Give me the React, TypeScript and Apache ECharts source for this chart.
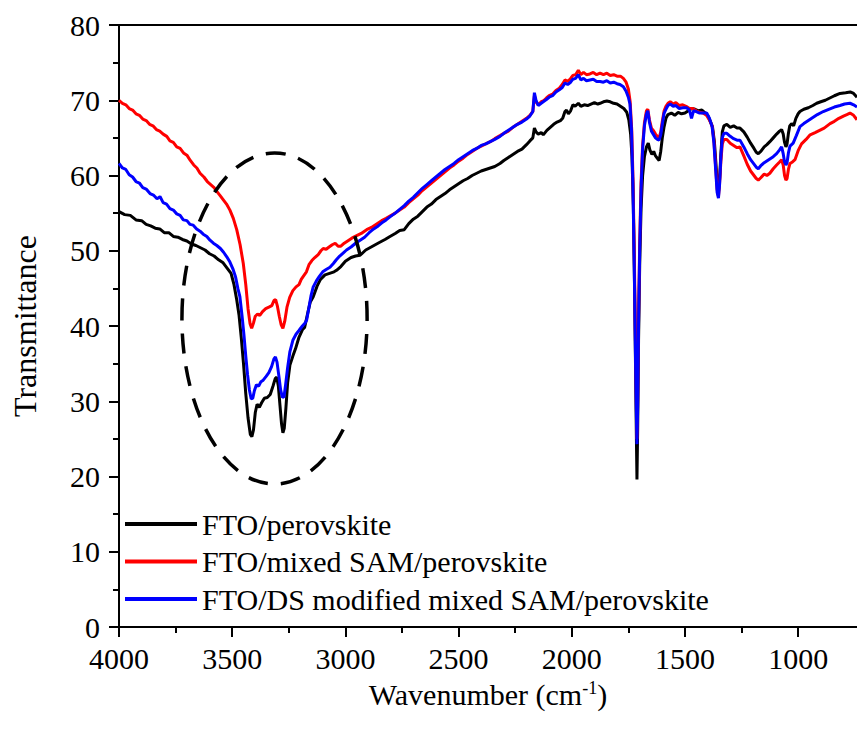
import React, { useEffect, useRef } from 'react';
import * as echarts from 'echarts';

const FONT = 'Liberation Serif, Times New Roman, serif';

const seriesNames = ['FTO/perovskite', 'FTO/mixed SAM/perovskite', 'FTO/DS modified mixed SAM/perovskite'];
const seriesColors = ['#000000', '#ff0000', '#0000ff'];

const X_MIN = 740;
const X_MAX = 4000;
const majorTicks = [1000, 1500, 2000, 2500, 3000, 3500, 4000];
const minorTicks = [1250, 1750, 2250, 2750, 3250, 3750];
const Y_MIN = 0;
const Y_MAX = 80;
const Y_INTERVAL = 10;

// dashed ellipse annotation, in data units: centre (wavenumber, transmittance) and radii
const ellipseCenter = [3313, 41];
const ellipseRadii = [409, 22];

const ftoPerovskite: [number, number][] = [
  [4000,55.2],[3975,54.8],[3950,54.7],[3925,54.1],[3900,54.0],[3880,53.5],[3860,53.3],[3840,53.0],[3820,52.9],[3800,52.4],[3780,52.4],[3760,51.9],[3740,51.8],[3720,51.5],[3700,51.3],[3680,50.9],[3660,50.7],[3640,50.4],[3620,50.1],[3600,49.6],[3580,49.3],[3560,48.8],[3540,48.4],[3520,47.6],[3505,47.0],[3492,45.5],[3480,43.5],[3470,41.5],[3460,38.5],[3450,35.0],[3440,31.0],[3430,27.8],[3420,25.6],[3413,25.3],[3406,26.2],[3398,28.5],[3390,29.6],[3380,29.2],[3370,29.8],[3358,30.4],[3345,30.5],[3332,30.9],[3320,32.0],[3310,33.0],[3303,33.2],[3296,32.0],[3289,29.5],[3282,27.0],[3276,25.8],[3270,26.4],[3263,29.0],[3255,32.5],[3245,34.8],[3232,36.0],[3220,37.0],[3205,38.5],[3190,39.5],[3180,39.8],[3168,41.5],[3155,43.2],[3142,43.9],[3125,45.3],[3110,46.2],[3090,46.8],[3070,47.0],[3050,47.2],[3039,47.4],[3020,47.9],[3000,48.6],[2975,49.1],[2955,49.3],[2935,49.4],[2910,50.1],[2880,50.6],[2850,51.1],[2825,51.5],[2803,51.9],[2780,52.3],[2760,52.7],[2740,52.8],[2720,53.6],[2700,54.2],[2680,54.6],[2660,55.2],[2640,55.8],[2620,56.2],[2600,56.8],[2580,57.2],[2560,57.6],[2540,58.1],[2520,58.5],[2500,58.9],[2480,59.3],[2460,59.6],[2440,60.0],[2420,60.3],[2400,60.6],[2380,60.8],[2360,61.0],[2340,61.2],[2317,61.6],[2300,62.0],[2280,62.4],[2260,62.8],[2240,63.2],[2220,63.5],[2200,64.1],[2185,64.6],[2172,65.0],[2165,66.3],[2158,65.8],[2148,65.5],[2135,65.7],[2126,65.4],[2110,66.0],[2095,66.4],[2080,66.8],[2065,67.1],[2050,67.3],[2040,67.6],[2030,68.5],[2023,68.7],[2015,68.2],[2005,68.6],[1995,69.4],[1985,69.2],[1971,69.6],[1960,69.2],[1945,69.4],[1930,69.3],[1915,69.5],[1900,69.7],[1885,69.5],[1875,69.6],[1860,69.8],[1845,69.9],[1830,69.8],[1815,69.6],[1800,69.5],[1785,69.2],[1770,68.9],[1757,68.4],[1748,67.4],[1740,65.5],[1734,62.5],[1728,56],[1723,46],[1718,34],[1714,24],[1712,19.6],[1709,26],[1705,38],[1700,48],[1694,55.5],[1687,60],[1679,62.5],[1670,63.8],[1662,64.3],[1655,63.4],[1646,62.8],[1638,63.2],[1630,62.6],[1622,62.3],[1614,62.0],[1607,63.2],[1600,65.0],[1592,66.5],[1584,67.6],[1575,68.1],[1560,68.3],[1545,68.0],[1530,68.4],[1515,68.2],[1500,68.3],[1485,68.6],[1470,68.9],[1455,68.8],[1440,68.6],[1425,68.7],[1410,68.3],[1398,67.9],[1388,67.2],[1378,66.4],[1370,64.5],[1363,61.5],[1357,58.8],[1352,57.8],[1347,59.5],[1341,63.0],[1335,65.8],[1328,66.6],[1315,66.8],[1300,66.4],[1285,66.6],[1270,66.3],[1257,66.3],[1240,65.8],[1225,65.1],[1210,64.3],[1195,63.6],[1185,63.1],[1176,62.9],[1165,63.2],[1150,63.8],[1138,64.1],[1125,64.5],[1110,65.0],[1095,65.5],[1082,65.9],[1073,66.1],[1066,65.5],[1060,64.4],[1054,63.8],[1049,64.2],[1043,65.6],[1037,66.6],[1029,66.9],[1020,66.6],[1010,67.6],[1000,68.2],[992,68.5],[975,68.8],[955,69.0],[935,69.3],[918,69.6],[900,69.8],[880,70.0],[860,70.3],[840,70.6],[815,70.9],[790,71.0],[770,71.1],[755,70.9],[740,70.4]
];

const ftoMixedSam: [number, number][] = [
  [4000,70.0],[3985,69.6],[3970,69.4],[3955,68.9],[3940,68.7],[3925,68.2],[3910,68.0],[3895,67.5],[3880,67.3],[3865,66.8],[3850,66.6],[3835,66.1],[3820,65.9],[3805,65.5],[3789,65.2],[3775,64.6],[3760,64.4],[3745,63.8],[3730,63.6],[3715,63.0],[3700,62.7],[3685,62.0],[3670,61.4],[3656,61.0],[3642,60.3],[3625,59.8],[3610,59.2],[3595,58.8],[3580,58.4],[3568,57.9],[3555,57.4],[3540,56.8],[3525,56.2],[3510,55.4],[3495,54.3],[3480,52.8],[3465,50.8],[3451,48.3],[3440,45.5],[3430,42.3],[3421,40.3],[3414,39.7],[3406,40.4],[3398,41.3],[3388,41.6],[3378,41.4],[3366,41.9],[3352,42.3],[3338,42.5],[3325,42.7],[3315,43.4],[3308,43.5],[3300,42.6],[3292,41.3],[3284,40.2],[3276,39.7],[3268,40.6],[3258,42.5],[3246,43.8],[3232,44.7],[3218,45.2],[3205,45.5],[3195,46.2],[3186,46.6],[3172,47.2],[3160,48.2],[3148,48.7],[3135,49.1],[3120,49.5],[3108,50.0],[3098,50.3],[3085,50.2],[3072,50.5],[3058,50.8],[3045,51.0],[3032,50.6],[3020,50.6],[3005,51.0],[2990,51.3],[2970,51.7],[2950,52.0],[2930,52.3],[2906,52.8],[2885,53.1],[2860,53.6],[2840,54.0],[2820,54.3],[2803,54.6],[2780,55.0],[2760,55.4],[2740,55.8],[2720,56.4],[2700,56.9],[2680,57.4],[2660,58.0],[2640,58.5],[2620,59.0],[2600,59.5],[2580,60.0],[2560,60.5],[2540,61.0],[2520,61.4],[2500,61.9],[2480,62.3],[2460,62.8],[2440,63.2],[2420,63.6],[2400,63.9],[2380,64.2],[2360,64.5],[2340,64.9],[2317,65.3],[2300,65.6],[2280,65.9],[2260,66.4],[2240,66.8],[2220,67.2],[2200,67.6],[2185,68.0],[2172,68.5],[2165,70.6],[2158,69.8],[2148,69.4],[2135,69.8],[2126,69.9],[2112,70.3],[2100,70.6],[2085,70.8],[2070,71.3],[2055,71.6],[2042,72.1],[2030,72.7],[2018,72.5],[2005,72.9],[1995,73.3],[1983,73.4],[1971,74.0],[1960,73.4],[1948,73.7],[1935,73.4],[1920,73.5],[1905,73.7],[1890,73.4],[1875,73.6],[1860,73.4],[1845,73.6],[1830,73.3],[1815,73.4],[1800,73.2],[1785,73.2],[1772,72.9],[1760,72.4],[1750,71.5],[1742,69.8],[1735,66],[1729,59],[1723,48],[1718,37],[1714,28.5],[1712,25.0],[1709,30],[1705,41],[1700,51],[1694,59],[1687,64],[1679,67.0],[1670,68.6],[1664,68.8],[1657,67.4],[1648,66.3],[1640,66.0],[1630,65.5],[1622,65.2],[1614,65.0],[1607,65.8],[1600,67.2],[1592,68.6],[1584,69.2],[1575,69.6],[1565,69.8],[1552,69.5],[1540,69.7],[1525,69.3],[1510,69.4],[1495,69.2],[1480,68.9],[1465,68.9],[1450,68.6],[1435,68.4],[1420,68.3],[1405,68.0],[1392,67.4],[1380,66.6],[1372,64.6],[1364,61.0],[1358,58.2],[1352,57.2],[1347,59.0],[1341,62.0],[1335,64.2],[1328,64.8],[1315,64.8],[1300,64.3],[1285,64.0],[1270,63.7],[1257,63.8],[1240,62.6],[1225,61.5],[1210,60.6],[1195,60.0],[1185,59.6],[1176,59.4],[1165,59.7],[1150,60.2],[1138,60.0],[1125,60.3],[1110,60.9],[1095,61.4],[1082,61.8],[1073,62.1],[1066,61.4],[1060,60.0],[1054,59.4],[1049,59.6],[1043,60.8],[1036,61.6],[1025,61.8],[1014,62.1],[1000,63.3],[985,64.2],[965,64.8],[947,65.4],[925,65.7],[905,66.0],[885,66.3],[859,66.9],[840,67.2],[820,67.6],[800,67.9],[785,68.1],[771,68.3],[755,68.0],[740,67.4]
];

const ftoDsModified: [number, number][] = [
  [4000,61.6],[3985,61.0],[3970,60.8],[3955,60.1],[3940,59.8],[3925,59.2],[3910,59.0],[3895,58.4],[3880,58.2],[3863,57.6],[3848,57.4],[3832,56.9],[3819,57.2],[3805,56.4],[3790,56.2],[3775,55.6],[3760,55.4],[3745,54.9],[3730,54.7],[3716,54.1],[3700,54.0],[3686,53.5],[3672,53.4],[3657,52.9],[3642,52.6],[3628,52.2],[3612,51.9],[3598,51.4],[3583,51.0],[3568,50.7],[3552,50.3],[3538,49.8],[3524,49.2],[3510,48.5],[3497,47.6],[3485,46.5],[3475,45.0],[3466,43.9],[3456,41.2],[3448,38.8],[3440,36.0],[3432,33.5],[3424,31.5],[3416,30.3],[3409,30.4],[3402,31.4],[3393,32.2],[3383,32.0],[3373,32.6],[3363,32.8],[3350,33.3],[3338,33.8],[3326,34.6],[3316,35.6],[3309,35.9],[3302,35.2],[3294,33.4],[3286,31.5],[3278,30.5],[3271,30.6],[3264,32.2],[3255,34.5],[3245,36.6],[3232,38.1],[3218,38.9],[3205,39.4],[3190,40.0],[3178,40.4],[3171,40.8],[3162,42.3],[3152,44.0],[3142,45.2],[3128,46.0],[3115,46.6],[3100,47.2],[3085,47.5],[3068,47.8],[3053,48.3],[3040,48.8],[3025,49.3],[3010,49.7],[2995,50.1],[2975,50.5],[2955,51.0],[2935,51.4],[2915,51.8],[2895,52.4],[2875,52.9],[2855,53.3],[2835,53.8],[2820,54.1],[2803,54.5],[2780,55.0],[2760,55.5],[2740,56.0],[2720,56.6],[2700,57.1],[2680,57.7],[2660,58.3],[2640,58.8],[2620,59.3],[2600,59.8],[2580,60.3],[2560,60.8],[2540,61.2],[2520,61.6],[2500,62.1],[2480,62.5],[2460,62.9],[2440,63.3],[2420,63.6],[2400,64.0],[2380,64.2],[2360,64.5],[2340,64.8],[2317,65.2],[2300,65.6],[2280,66.0],[2260,66.4],[2240,66.8],[2220,67.1],[2200,67.5],[2185,67.9],[2172,68.5],[2165,71.0],[2158,70.0],[2148,69.3],[2135,69.6],[2126,69.8],[2112,70.1],[2100,70.4],[2085,70.6],[2070,71.1],[2055,71.4],[2042,71.7],[2030,72.3],[2018,72.1],[2005,72.4],[1995,72.8],[1983,72.9],[1971,73.4],[1960,72.7],[1948,72.9],[1935,72.6],[1920,72.7],[1905,72.8],[1890,72.5],[1875,72.5],[1860,72.4],[1845,72.6],[1830,72.3],[1815,72.4],[1800,72.2],[1787,72.1],[1772,71.8],[1760,71.2],[1750,70.4],[1743,69.5],[1736,66],[1730,59],[1724,48],[1719,37],[1715,29],[1712,24.3],[1709,29],[1705,40],[1700,50],[1694,58],[1687,63.5],[1679,66.6],[1670,68.2],[1664,68.6],[1657,67.1],[1648,65.9],[1640,65.5],[1630,65.0],[1622,64.8],[1614,64.7],[1607,65.4],[1600,66.8],[1592,68.3],[1584,68.8],[1575,69.3],[1565,69.5],[1552,69.2],[1540,69.3],[1525,68.9],[1510,69.0],[1493,69.0],[1480,68.7],[1471,67.6],[1462,68.6],[1450,68.5],[1435,68.3],[1420,68.3],[1404,68.3],[1392,67.6],[1380,66.5],[1372,64.3],[1364,60.6],[1358,57.8],[1352,57.0],[1347,58.8],[1341,62.6],[1335,65.0],[1328,65.6],[1315,65.6],[1300,65.2],[1285,64.9],[1270,64.7],[1257,64.7],[1240,63.8],[1225,62.9],[1210,62.1],[1195,61.5],[1185,61.1],[1176,60.9],[1165,61.3],[1150,61.7],[1130,62.1],[1110,62.5],[1095,62.9],[1082,63.4],[1073,63.8],[1066,62.9],[1060,61.8],[1054,61.4],[1049,61.7],[1043,63.0],[1036,63.9],[1022,64.3],[1008,65.3],[992,66.5],[975,66.9],[955,67.3],[935,67.7],[915,68.1],[889,68.5],[865,68.8],[840,69.1],[815,69.3],[795,69.5],[771,69.6],[755,69.4],[740,69.1]
];

const seriesData = [ftoPerovskite, ftoMixedSam, ftoDsModified];

export default function App() {
  const ref = useRef<HTMLDivElement>(null);

  useEffect(() => {
    if (!ref.current) return;
    const chart = echarts.init(ref.current, null, { renderer: 'svg' });
    const axisLineStyle = { color: '#000', width: 2 };
    const labelStyle = { fontFamily: FONT, fontSize: 30, color: '#000', fontWeight: 'normal' as const };
    const xCommon = {
      type: 'value' as const,
      min: X_MIN,
      max: X_MAX,
      inverse: true,
      splitLine: { show: false },
    };
    chart.setOption({
      animation: false,
      backgroundColor: '#ffffff',
      textStyle: { fontFamily: FONT },
      grid: { left: 119, right: 0, top: 25, bottom: 106, containLabel: false },
      legend: {
        orient: 'vertical',
        left: 125,
        top: 509,
        itemWidth: 72,
        itemHeight: 4,
        itemGap: 7.5,
        padding: 0,
        icon: 'rect',
        data: seriesNames,
        textStyle: { ...labelStyle, lineHeight: 30 },
      },
      xAxis: [
        {
          ...xCommon,
          position: 'bottom',
          name: 'Wavenumber (cm{sup|-1})',
          nameLocation: 'middle',
          nameGap: 52,
          nameTextStyle: {
            ...labelStyle,
            rich: { sup: { fontFamily: FONT, fontSize: 18, color: '#000', verticalAlign: 'top', lineHeight: 18 } },
          },
          axisLine: { show: true, onZero: false, lineStyle: axisLineStyle },
          axisTick: { show: true, inside: false, length: 10, lineStyle: axisLineStyle, customValues: majorTicks },
          axisLabel: {
            show: true,
            margin: 16,
            ...labelStyle,
            customValues: majorTicks,
            formatter: (v: number) => String(v),
          },
        },
        {
          ...xCommon,
          position: 'bottom',
          axisLine: { show: false },
          axisTick: { show: true, inside: false, length: 6, lineStyle: axisLineStyle, customValues: minorTicks },
          axisLabel: { show: false },
        },
        {
          ...xCommon,
          position: 'top',
          axisLine: { show: true, onZero: false, lineStyle: axisLineStyle },
          axisTick: { show: false },
          axisLabel: { show: false },
        },
      ],
      yAxis: {
        type: 'value',
        min: Y_MIN,
        max: Y_MAX,
        interval: Y_INTERVAL,
        name: 'Transmittance',
        nameLocation: 'middle',
        nameGap: 78,
        nameTextStyle: { ...labelStyle, fontSize: 32 },
        axisLine: { show: true, onZero: false, lineStyle: axisLineStyle },
        axisTick: { show: true, inside: false, length: 10, lineStyle: axisLineStyle },
        minorTick: { show: true, splitNumber: 2, length: 6, lineStyle: axisLineStyle },
        axisLabel: { margin: 19, ...labelStyle, formatter: (v: number) => String(v) },
        splitLine: { show: false },
      },
      series: seriesNames.map((name, i) => ({
        name,
        type: 'line',
        xAxisIndex: 0,
        yAxisIndex: 0,
        data: seriesData[i],
        showSymbol: false,
        symbol: 'none',
        color: seriesColors[i],
        lineStyle: { color: seriesColors[i], width: 3 },
        z: 2 + i,
      })),
    });

    const c = chart.convertToPixel({ seriesIndex: 0 }, ellipseCenter) as number[];
    const e = chart.convertToPixel({ seriesIndex: 0 }, [
      ellipseCenter[0] - ellipseRadii[0],
      ellipseCenter[1] + ellipseRadii[1],
    ]) as number[];
    chart.setOption({
      graphic: [
        {
          type: 'ellipse',
          z: 100,
          silent: true,
          shape: { cx: c[0], cy: c[1], rx: Math.abs(e[0] - c[0]), ry: Math.abs(e[1] - c[1]) },
          style: { fill: 'none', stroke: '#000', lineWidth: 3.5, lineDash: [20, 13] },
        },
      ],
    });

    return () => chart.dispose();
  }, []);

  return (
    <div
      ref={ref}
      style={{ position: 'absolute', left: 0, top: 0, width: 857, height: 733, background: '#fff' }}
    />
  );
}
